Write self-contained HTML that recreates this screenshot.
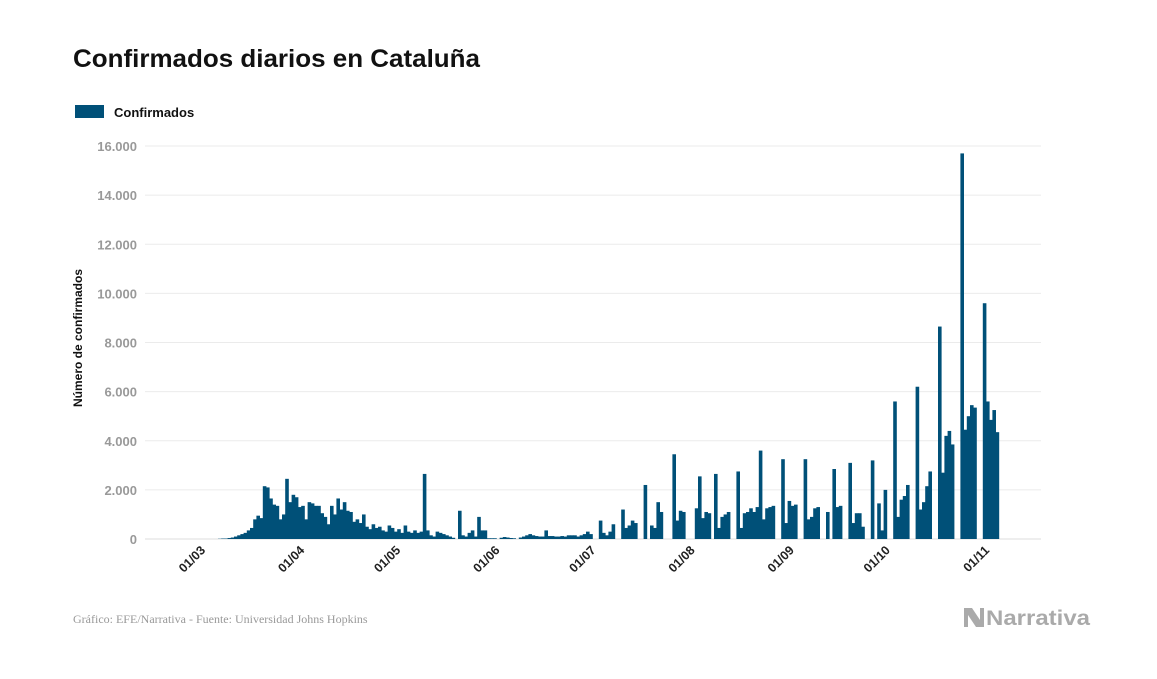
<!DOCTYPE html>
<html><head><meta charset="utf-8"><style>
body{margin:0;background:#fff;width:1157px;height:674px;overflow:hidden;font-family:"Liberation Sans",sans-serif}
</style></head><body>
<svg id="s" width="1157" height="674" xmlns="http://www.w3.org/2000/svg">
<text x="73" y="67" font-size="25" font-weight="bold" fill="#111" textLength="407" lengthAdjust="spacingAndGlyphs">Confirmados diarios en Cataluña</text>
<rect x="75" y="105" width="29" height="13" fill="#005078"/>
<text x="114" y="117" font-size="13" font-weight="bold" fill="#111">Confirmados</text>
<text transform="translate(82,338) rotate(-90)" text-anchor="middle" font-size="12" font-weight="bold" fill="#111">Número de confirmados</text>
<text x="73" y="623" font-family="Liberation Serif,serif" font-size="12" fill="#999">Gráfico: EFE/Narrativa - Fuente: Universidad Johns Hopkins</text>
<g fill="#aaa"><path d="M964 608 l8 0 l8 12 l0 -12 l4 0 l0 19 l-8 0 l-8 -12 l0 12 l-4 0z"/></g>
<text x="986" y="625" font-size="21" font-weight="bold" fill="#aaa" textLength="104" lengthAdjust="spacingAndGlyphs">Narrativa</text>
<g id="g"></g><g id="b" fill="#005078"></g><g id="x"></g>
</svg>
<script>
var NS="http://www.w3.org/2000/svg";
function el(p,t,a,txt){var e=document.createElementNS(NS,t);for(var k in a)e.setAttribute(k,a[k]);if(txt)e.textContent=txt;document.getElementById(p).appendChild(e);}
var base=539,k=0.02456;
for(var v=0;v<=16000;v+=2000){var y=base-v*k;el("g","line",{x1:145,x2:1041,y1:y,y2:y,stroke:v?"#ebebeb":"#ddd","stroke-width":1});
el("g","text",{x:137,y:y+5,"text-anchor":"end","font-size":13,"font-weight":"bold",fill:"#999"},v?v.toLocaleString("de-DE"):"0");}
var d={5:10,6:20,7:20,8:40,9:60,10:100,11:150,12:200,13:250,14:350,15:450,16:800,17:950,18:850,19:2150,20:2100,21:1650,22:1400,23:1350,24:800,25:1000,26:2450,27:1500,28:1800,29:1700,30:1300,31:1350,32:800,33:1500,34:1450,35:1350,36:1350,37:1050,38:900,39:600,40:1350,41:1000,42:1650,43:1200,44:1500,45:1150,46:1100,47:700,48:800,49:650,50:1000,51:500,52:400,53:600,54:450,55:500,56:350,57:300,58:550,59:450,60:300,61:400,62:250,63:550,64:300,65:250,66:350,67:250,68:300,69:2650,70:350,71:150,72:100,73:300,74:250,75:200,76:150,77:100,78:50,
80:1150,81:150,82:100,83:250,84:350,85:100,86:900,87:350,88:350,89:30,90:30,91:30,93:50,94:80,95:60,96:40,97:30,99:60,100:100,101:150,102:200,103:150,104:120,105:100,106:100,107:350,108:120,109:120,110:100,111:100,112:120,113:100,114:150,115:150,116:150,117:100,118:150,119:200,120:300,121:200,
124:750,125:250,126:150,127:300,128:600,131:1200,132:450,133:550,134:750,135:650,138:2200,140:550,141:450,142:1500,143:1100,147:3450,148:750,149:1150,150:1100,154:1250,155:2550,156:850,157:1100,158:1050,160:2650,161:450,162:900,163:1000,164:1100,167:2750,168:450,169:1050,170:1100,171:1250,172:1100,173:1300,174:3600,175:800,176:1250,177:1300,178:1350,181:3250,182:650,183:1550,184:1350,185:1400,188:3250,189:800,190:900,191:1250,192:1300,195:1100,197:2850,198:1300,199:1350,202:3100,203:650,204:1050,205:1050,206:500,209:3200,211:1450,212:350,213:2000,216:5600,217:900,218:1600,219:1750,220:2200,223:6200,224:1200,225:1500,226:2150,227:2750,230:8650,231:2700,232:4200,233:4400,234:3850,237:15700,238:4450,239:5000,240:5450,241:5350,244:9600,245:5600,246:4850,247:5250,248:4350};
var x0=205,w=3.2;
for(var i in d){var h=d[i]*k;el("b","rect",{x:x0+i*w-3,y:base-h,width:w+0.4,height:h});}
var m=[["01/03",0],["01/04",31],["01/05",61],["01/06",92],["01/07",122],["01/08",153],["01/09",184],["01/10",214],["01/11",245]];
m.forEach(function(a){var xx=x0+a[1]*w+1;el("x","text",{transform:"translate("+xx+",551) rotate(-45)","text-anchor":"end","font-size":12.5,"font-weight":"bold",fill:"#222"},a[0]);});
</script>
</body></html>
